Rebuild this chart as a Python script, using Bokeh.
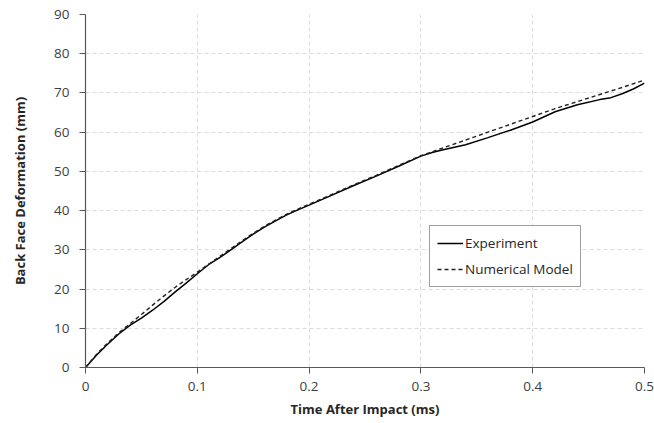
from bokeh.plotting import figure
from bokeh.models import FixedTicker, Legend, LegendItem, Range1d
from bokeh.embed import file_html
from bokeh.resources import INLINE

# ---- data ----
time_exp = [0, 0.01, 0.02, 0.03, 0.04, 0.05, 0.06, 0.07, 0.08, 0.09, 0.10,
            0.11, 0.12, 0.13, 0.14, 0.15, 0.16, 0.17, 0.18, 0.19, 0.20,
            0.22, 0.24, 0.26, 0.28, 0.30, 0.31, 0.32, 0.34, 0.36, 0.38,
            0.40, 0.42, 0.44, 0.46, 0.47, 0.48, 0.49, 0.50]
defl_exp = [0, 3.2, 6.0, 8.6, 10.8, 12.6, 14.6, 16.8, 19.2, 21.5, 23.9,
            26.2, 28.0, 30.0, 32.0, 34.0, 35.8, 37.4, 38.9, 40.2, 41.4,
            43.9, 46.4, 48.8, 51.3, 53.9, 54.8, 55.5, 56.8, 58.6, 60.5,
            62.6, 65.2, 67.0, 68.3, 68.8, 69.8, 71.0, 72.5]

time_num = [0, 0.01, 0.02, 0.03, 0.04, 0.05, 0.06, 0.07, 0.08, 0.09, 0.10,
            0.11, 0.12, 0.13, 0.14, 0.15, 0.16, 0.17, 0.18, 0.19, 0.20,
            0.22, 0.24, 0.26, 0.28, 0.30, 0.32, 0.34, 0.36, 0.38, 0.40,
            0.42, 0.44, 0.46, 0.48, 0.50]
defl_num = [0, 3.4, 6.3, 8.9, 11.2, 13.5, 15.9, 18.2, 20.4, 22.4, 24.3,
            26.3, 28.3, 30.3, 32.3, 34.2, 36.0, 37.6, 39.1, 40.4, 41.6,
            44.1, 46.6, 49.0, 51.5, 54.0, 56.0, 58.0, 60.0, 62.0, 64.0,
            66.0, 67.8, 69.6, 71.4, 73.3]

x_ticks = [0, 0.1, 0.2, 0.3, 0.4, 0.5]
x_tick_labels = ["0", "0.1", "0.2", "0.3", "0.4", "0.5"]
y_ticks = [0, 10, 20, 30, 40, 50, 60, 70, 80, 90]

series_names = ["Experiment", "Numerical Model"]
x_title = "Time After Impact (ms)"
y_title = "Back Face Deformation (mm)"

FONT = "Open Sans"
AXIS_COLOR = "#595959"
TEXT_COLOR = "#404040"

p = figure(width=654, height=423, output_backend="svg", toolbar_location=None,
           x_range=Range1d(0, 0.5), y_range=Range1d(0, 90),
           min_border_left=85, min_border_right=10, min_border_top=14,
           min_border_bottom=56)
p.outline_line_color = None
p.background_fill_color = "white"
p.border_fill_color = "white"

r_exp = p.line(time_exp, defl_exp, line_color="black", line_width=1.5)
r_num = p.line(time_num, defl_num, line_color="#222222", line_width=1.4,
               line_dash="4 3")

for ax in (p.xaxis[0], p.yaxis[0]):
    ax.axis_line_color = AXIS_COLOR
    ax.axis_line_width = 1.2
    ax.major_tick_line_color = AXIS_COLOR
    ax.major_tick_out = 6
    ax.major_tick_in = 0
    ax.minor_tick_line_color = None
    ax.major_label_text_font = FONT
    ax.major_label_text_font_size = "13.5px"
    ax.major_label_text_color = TEXT_COLOR
    ax.axis_label_text_font = FONT
    ax.axis_label_text_font_size = "13px"
    ax.axis_label_text_font_style = "bold"
    ax.axis_label_text_color = "#262626"

p.xaxis.ticker = FixedTicker(ticks=x_ticks)
p.xaxis.major_label_overrides = {t: l for t, l in zip(x_ticks, x_tick_labels)}
p.xaxis.major_label_standoff = 8
p.xaxis.axis_label = x_title
p.xaxis.axis_label_standoff = 6

p.yaxis.ticker = FixedTicker(ticks=y_ticks)
p.yaxis.major_label_standoff = 10
p.yaxis.axis_label = y_title
p.yaxis.axis_label_standoff = 22

p.grid.grid_line_color = "#dcdcdc"
p.grid.grid_line_dash = "4 3"
p.grid.grid_line_width = 1
p.xgrid.ticker = FixedTicker(ticks=x_ticks)
p.ygrid.ticker = FixedTicker(ticks=y_ticks)

legend = Legend(items=[LegendItem(label=series_names[0], renderers=[r_exp]),
                       LegendItem(label=series_names[1], renderers=[r_num])],
                location=(344, 80))
legend.border_line_color = "#404040"
legend.border_line_width = 1
legend.background_fill_color = "white"
legend.background_fill_alpha = 1
legend.label_text_font = FONT
legend.label_text_font_size = "13.5px"
legend.label_text_color = "#262626"
legend.glyph_width = 26
legend.glyph_height = 20
legend.label_height = 20
legend.label_standoff = 2
legend.spacing = 6
legend.padding = 7
legend.margin = 0
p.add_layout(legend, "center")

open("out.html", "w").write(file_html(p, INLINE))
